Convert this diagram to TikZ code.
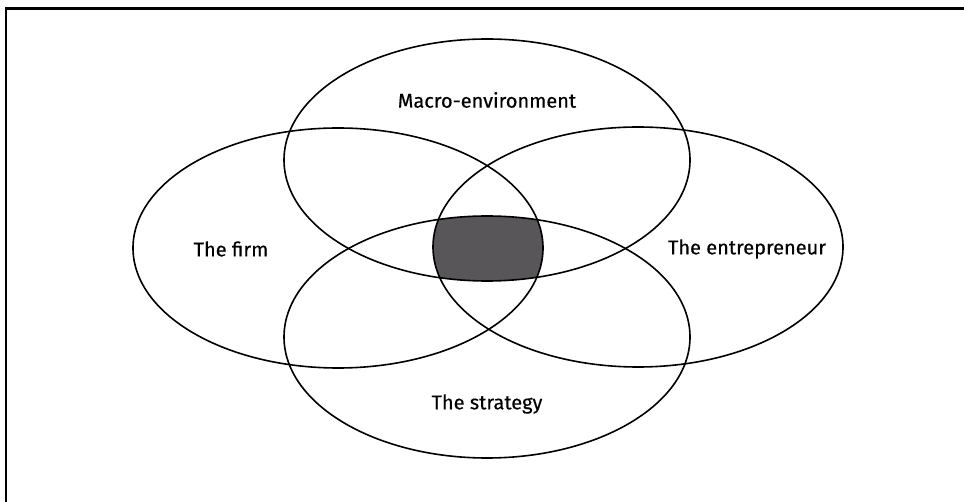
\documentclass[tikz,border=0pt]{standalone}
\usepackage{fontspec}
\setmainfont{Fira Sans}[FakeBold=0.4]
\begin{document}
\begin{tikzpicture}[x=1pt,y=-1pt,
  ring/.style={draw=black,line width=1.6pt},
  label/.style={font=\fontsize{20}{24}\selectfont,inner sep=0pt,anchor=center},
  frameline/.style={draw=black,line width=2.4pt}]
\useasboundingbox (0,0) rectangle (964,502);
\fill[white] (0,0) rectangle (964,502);
\coordinate (ctop) at (487,160);
\coordinate (cbot) at (487,337);
\coordinate (cleft) at (338,248);
\coordinate (cright) at (638,247);
\begin{scope}
  \clip (ctop) ellipse [x radius=203, y radius=121];
  \clip (cbot) ellipse [x radius=203, y radius=121];
  \clip (cleft) ellipse [x radius=205, y radius=120];
  \fill[fill={rgb,255:red,88;green,86;blue,88}] (cright) ellipse [x radius=205, y radius=120];
\end{scope}
\draw[ring] (ctop) ellipse [x radius=203, y radius=121];
\draw[ring] (cbot) ellipse [x radius=203, y radius=121];
\draw[ring] (cleft) ellipse [x radius=205, y radius=120];
\draw[ring] (cright) ellipse [x radius=205, y radius=120];
\node[label] (macro) at (487,100) {Macro-environment};
\node[label] (firm) at (231,249) {The firm};
\node[label] (entre) at (747,249) {The entrepreneur};
\node[label] (strat) at (487,404) {The strategy};
\draw[frameline] (6,510) -- (6,8.5) -- (970,8.5);
\end{tikzpicture}
\end{document}
